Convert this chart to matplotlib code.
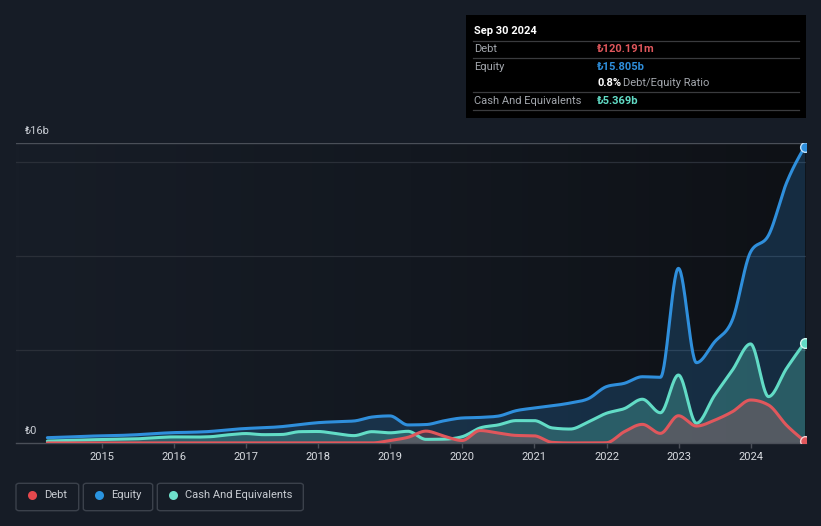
import numpy as np
import matplotlib
matplotlib.use('Agg')
import matplotlib.pyplot as plt
from matplotlib.patches import Rectangle, FancyBboxPatch
from matplotlib.lines import Line2D
from matplotlib.colors import LinearSegmentedColormap

plt.rcParams['font.family'] = ['Roboto', 'DejaVu Sans']

# ---------------- data (billions TRY) ----------------
quarters = ["2014Q1", "2014Q2", "2014Q3", "2014Q4",
            "2015Q1", "2015Q2", "2015Q3", "2015Q4",
            "2016Q1", "2016Q2", "2016Q3", "2016Q4",
            "2017Q1", "2017Q2", "2017Q3", "2017Q4",
            "2018Q1", "2018Q2", "2018Q3", "2018Q4",
            "2019Q1", "2019Q2", "2019Q3", "2019Q4",
            "2020Q1", "2020Q2", "2020Q3", "2020Q4",
            "2021Q1", "2021Q2", "2021Q3", "2021Q4",
            "2022Q1", "2022Q2", "2022Q3", "2022Q4",
            "2023Q1", "2023Q2", "2023Q3", "2023Q4",
            "2024Q1", "2024Q2", "2024Q3"]

equity = [0.30, 0.33, 0.37, 0.40,
          0.42, 0.46, 0.52, 0.57,
          0.59, 0.63, 0.72, 0.79,
          0.83, 0.89, 1.00, 1.10,
          1.15, 1.19, 1.40, 1.46,
          0.98, 1.00, 1.20, 1.35,
          1.38, 1.45, 1.74, 1.88,
          2.00, 2.15, 2.38, 3.02,
          3.20, 3.55, 3.52, 9.33,
          4.30, 5.40, 6.60, 10.20,
          11.10, 13.90, 15.805]

cash = [0.12, 0.15, 0.18, 0.20,
        0.22, 0.24, 0.30, 0.34,
        0.33, 0.35, 0.45, 0.52,
        0.46, 0.47, 0.62, 0.63,
        0.52, 0.41, 0.62, 0.56,
        0.64, 0.21, 0.22, 0.35,
        0.82, 0.98, 1.21, 1.21,
        0.82, 0.76, 1.14, 1.60,
        1.85, 2.35, 1.63, 3.64,
        1.07, 2.55, 3.91, 5.30,
        2.49, 4.00, 5.369]

debt = [0.02, 0.02, 0.02, 0.02,
        0.02, 0.02, 0.02, 0.02,
        0.02, 0.02, 0.02, 0.02,
        0.02, 0.02, 0.02, 0.02,
        0.02, 0.02, 0.02, 0.15,
        0.32, 0.65, 0.38, 0.15,
        0.68, 0.55, 0.42, 0.40,
        0.05, 0.02, 0.02, 0.03,
        0.62, 1.01, 0.53, 1.47,
        0.92, 1.23, 1.69, 2.31,
        2.04, 0.96, 0.120]

year_ticks = [2015, 2016, 2017, 2018, 2019, 2020, 2021, 2022, 2023, 2024]
y_labels = ["₺0", "₺16b"]

tooltip_date = "Sep 30 2024"
tooltip_rows = [("Debt", "₺120.191m"), ("Equity", "₺15.805b"),
                ("Cash And Equivalents", "₺5.369b")]
ratio_text = ("0.8%", "Debt/Equity Ratio")
legend_names = ["Debt", "Equity", "Cash And Equivalents"]

# ---------------- helpers ----------------
def q_to_year(q):
    y = int(q[:4]); n = int(q[5])
    return y + n * 0.25 - 0.003

def monotone_x(x, y, n=30):
    x = np.asarray(x, float); y = np.asarray(y, float)
    h = np.diff(x); s = np.diff(y) / h
    m = np.zeros_like(y)
    for k in range(1, len(y) - 1):
        s0, s1, h0, h1 = s[k - 1], s[k], h[k - 1], h[k]
        p = (s0 * h1 + s1 * h0) / (h0 + h1)
        m[k] = (np.sign(s0) + np.sign(s1)) * min(abs(s0), abs(s1), 0.5 * abs(p))
    m[0] = (3 * s[0] - m[1]) / 2
    m[-1] = (3 * s[-1] - m[-2]) / 2
    xs, ys = [], []
    for k in range(len(h)):
        t = np.linspace(0, 1, n, endpoint=(k == len(h) - 1))
        h00 = 2 * t**3 - 3 * t**2 + 1
        h10 = t**3 - 2 * t**2 + t
        h01 = -2 * t**3 + 3 * t**2
        h11 = t**3 - t**2
        xs.append(x[k] + t * h[k])
        ys.append(h00 * y[k] + h10 * h[k] * m[k] + h01 * y[k + 1] + h11 * h[k] * m[k + 1])
    return np.concatenate(xs), np.concatenate(ys)

W, H = 821, 526
def fx(px): return px / W
def fy(py): return 1 - py / H

BG = '#161c26'
C_DEBT = '#e0575c'
C_EQ = '#2f8fdc'
C_CASH = '#62dcc6'

fig = plt.figure(figsize=(W / 100, H / 100), dpi=100, facecolor=BG)
ax = fig.add_axes([fx(16), fy(443.3), fx(805.5) - fx(16), (443.3 - 143.3) / H])
ax.set_facecolor(BG)

x = [q_to_year(q) for q in quarters]
x0, x1 = 2013.812, x[-1] + 0.012
ax.set_xlim(x0, x1)
ax.set_ylim(0, 16)

# background horizontal gradient
cmap = LinearSegmentedColormap.from_list('bg', ['#171d27', '#131820', '#0e1116'])
grad = np.linspace(0, 1, 1024).reshape(1, -1)
ax.imshow(grad, extent=[x0, x1, 0, 16], aspect='auto', cmap=cmap, zorder=0,
          interpolation='nearest')
ax.set_xlim(x0, x1)
ax.set_ylim(0, 16)

for gv in [5, 10, 15]:
    ax.axhline(gv, color='#2a2f38', lw=0.9, zorder=1)
ax.axhline(16, color='#4a4f58', lw=1.0, zorder=1)

series = [(equity, C_EQ, 0.22, '#bfe0fa'), (cash, C_CASH, 0.27, '#d2f6ee'),
          (debt, C_DEBT, 0.24, '#f8d0d2')]
for vals, col, al, _ in series:
    xs, ys = monotone_x(x, vals)
    ys = np.clip(ys, 0, None)
    ax.fill_between(xs, 0, ys, color=col, alpha=al, lw=0, zorder=2)
for vals, col, al, edge in series:
    xs, ys = monotone_x(x, vals)
    ys = np.clip(ys, 0, None)
    ax.plot(xs, ys, color=col, lw=2.2, zorder=3, solid_capstyle='round')
    ax.plot([x[-1]], [vals[-1]], marker='o', ms=7, mfc=col, mec=edge,
            mew=1.0, zorder=4, clip_on=True)

for sp in ['top', 'right', 'left']:
    ax.spines[sp].set_visible(False)
ax.spines['bottom'].set_color('#4a4f58')
ax.spines['bottom'].set_linewidth(1.0)
ax.set_yticks([])
ax.set_xticks(year_ticks)
ax.set_xticklabels([str(t) for t in year_ticks])
ax.tick_params(axis='x', colors='#4a4f58', labelcolor='#d8dbe0', length=3.5,
               width=1, labelsize=8, pad=3)

fig.text(fx(25), fy(431), y_labels[0], color='#c8ccd3', fontsize=8, ha='left', va='center')
fig.text(fx(25), fy(131), y_labels[1], color='#c8ccd3', fontsize=8, ha='left', va='center')

# ---------------- tooltip ----------------
fig.patches.append(Rectangle((fx(466), fy(118)), fx(806) - fx(466), (118 - 15) / H,
                             transform=fig.transFigure, facecolor='#000000',
                             edgecolor='none', zorder=5))
fig.text(fx(474), fy(31), tooltip_date, color='#ffffff', fontsize=8, fontweight='bold',
         ha='left', va='center', zorder=6)
for ly in [41, 58.3, 92.3, 110]:
    fig.add_artist(Line2D([fx(473), fx(799)], [fy(ly), fy(ly)], color='#3a3b3e',
                          lw=0.9, transform=fig.transFigure, zorder=6))
row_y = [49.5, 66.5, 100.5]
row_cols = [C_DEBT, C_EQ, C_CASH]
for (lab, val), ry, rc in zip(tooltip_rows, row_y, row_cols):
    fig.text(fx(474), fy(ry), lab, color='#a3a7ad', fontsize=8, ha='left', va='center', zorder=6)
    fig.text(fx(597), fy(ry), val, color=rc, fontsize=8, fontweight='bold',
             ha='left', va='center', zorder=6)
fig.text(fx(597), fy(83.3), ratio_text[0], color='#ffffff', fontsize=8, fontweight='bold',
         ha='left', va='center', zorder=6)
fig.text(fx(623), fy(83.3), ratio_text[1], color='#a3a7ad', fontsize=8,
         ha='left', va='center', zorder=6)

# ---------------- legend ----------------
boxes = [(16, 78.7), (83.3, 152.7), (157.3, 303.3)]
dots = [32.3, 99, 172.7]
texts = [44.3, 111, 185]
cols = ['#e5484d', '#2a94e0', '#6fe0cb']
for (bx0, bx1), dx, tx, name, c in zip(boxes, dots, texts, legend_names, cols):
    fig.patches.append(FancyBboxPatch((fx(bx0), fy(510.7)), fx(bx1) - fx(bx0),
                                      (510.7 - 483.3) / H,
                                      boxstyle='round,pad=0,rounding_size=0.004',
                                      transform=fig.transFigure, facecolor='none',
                                      edgecolor='#3b414b', lw=1.0))
    fig.add_artist(Line2D([fx(dx)], [fy(495.3)], marker='o', ms=6.5, mfc=c, mec='none',
                          transform=fig.transFigure))
    fig.text(fx(tx), fy(495.5), name, color='#c9cdd3', fontsize=8, ha='left', va='center')

fig.savefig('out.png', dpi=100, facecolor=BG)
